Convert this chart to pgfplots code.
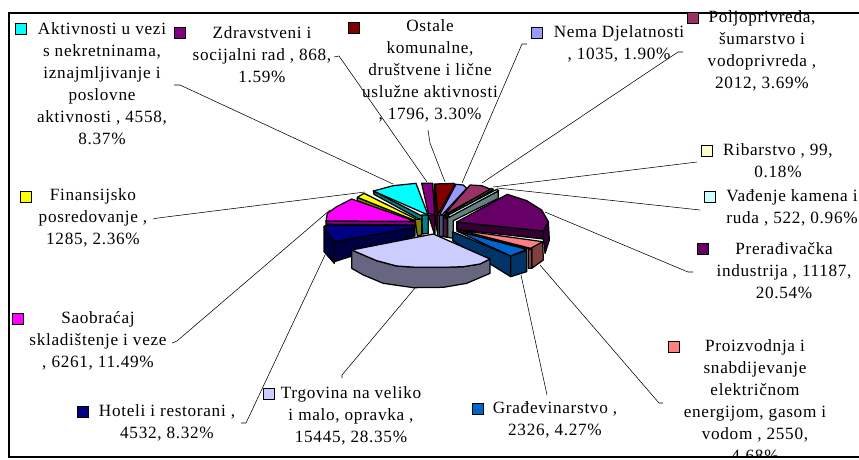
\documentclass[border=0pt]{standalone}
\usepackage{fontspec}
\setmainfont[LetterSpace=4]{Liberation Serif}
\usepackage{pgfplots}
\pgfplotsset{compat=1.18}
\newcommand{\poly}[2]{\addplot[draw=black,fill=#1,line width=1.25pt,line join=round] coordinates {#2} --cycle;}
\newcommand{\lead}[1]{\addplot[black,line width=0.55pt] coordinates {#1};}
\newcommand{\key}[3]{\addplot[only marks,mark=square*,mark size=5.2pt,mark options={draw=black,fill=#1,line width=1pt}] coordinates {(#2,#3)};}
\newcommand{\lab}[3]{\node[align=center,inner sep=0pt,font=\fontsize{17.2}{22}\selectfont] at (axis cs:#1,#2) {#3};}
\pgfplotsset{base/.style={at={(0,0)},anchor=south west,scale only axis,width=859pt,height=460pt,hide axis,y dir=reverse,clip=false}}
\definecolor{cTr}{HTML}{CCCCFF}\definecolor{sTr}{HTML}{666680}
\definecolor{cGr}{HTML}{0066CC}\definecolor{sGr}{HTML}{003366}
\definecolor{cPr}{HTML}{FF8080}\definecolor{sPr}{HTML}{804040}
\definecolor{cPe}{HTML}{660066}\definecolor{sPe}{HTML}{330033}
\definecolor{cVa}{HTML}{CCFFFF}\definecolor{sVa}{HTML}{668080}
\definecolor{cRi}{HTML}{FFFFCC}\definecolor{sRi}{HTML}{808066}
\definecolor{cPo}{HTML}{993366}\definecolor{sPo}{HTML}{4D1A33}
\definecolor{cNe}{HTML}{9999FF}\definecolor{sNe}{HTML}{4D4D80}
\definecolor{cOs}{HTML}{800000}\definecolor{sOs}{HTML}{400000}
\definecolor{cZd}{HTML}{800080}\definecolor{sZd}{HTML}{400040}
\definecolor{cAk}{HTML}{00FFFF}\definecolor{sAk}{HTML}{008080}
\definecolor{cFi}{HTML}{FFFF00}\definecolor{sFi}{HTML}{808000}
\definecolor{cSa}{HTML}{FF00FF}\definecolor{sSa}{HTML}{800080}
\definecolor{cHo}{HTML}{000080}\definecolor{sHo}{HTML}{000040}
\begin{document}
\begin{tikzpicture}[x=1pt,y=1pt]
\useasboundingbox (0,0) rectangle (859pt,460pt);
% labels, keys and leader lines, in pixels of the picture
\begin{axis}[base,xmin=0,xmax=859,ymin=0,ymax=460]
\lead{(174,85)(180,85)(393,184)}
\lead{(334,57)(339,56)(427,182)}
\lead{(428,130)(430,143)(445,182)}
\lead{(527,44)(522,44)(462,183)}
\lead{(683,52)(678,52)(482,183)}
\lead{(697,162)(493,187)}
\lead{(700,210)(497,188)}
\lead{(693,272)(688,272)(545,212)}
\lead{(663,403)(659,403)(540,265)}
\lead{(547,395)(521,275)}
\lead{(342,378)(342,375)(415,288)}
\lead{(241,423)(246,423)(325,255)}
\lead{(172,343)(177,341)(330,210)}
\lead{(153,219)(158,218)(365,192)}
\lab{102}{84}{Aktivnosti u vezi\\s nekretninama,\\iznajmljivanje i\\poslovne\\aktivnosti , 4558,\\8.37\%}
\lab{262}{55}{Zdravstveni i\\socijalni rad , 868,\\1.59\%}
\lab{430}{71}{Ostale\\komunalne,\\društvene i lične\\uslužne aktivnosti\\, 1796, 3.30\%}
\lab{619}{44}{Nema Djelatnosti\\, 1035, 1.90\%}
\lab{762}{51}{Poljoprivreda,\\šumarstvo i\\vodoprivreda ,\\2012, 3.69\%}
\lab{778}{161}{Ribarstvo , 99,\\0.18\%}
\lab{792}{208}{Vađenje kamena i\\ruda , 522, 0.96\%}
\lab{784}{271}{Prerađivačka\\industrija , 11187,\\20.54\%}
\lab{755}{401}{Proizvodnja i\\snabdijevanje\\električnom\\energijom, gasom i\\vodom , 2550,\\4.68\%}
\lab{555}{420}{Građevinarstvo ,\\2326, 4.27\%}
\lab{351}{416}{Trgovina na veliko\\i malo, opravka ,\\15445, 28.35\%}
\lab{167}{423}{Hoteli i restorani ,\\4532, 8.32\%}
\lab{98}{341}{Saobraćaj\\skladištenje i veze\\, 6261, 11.49\%}
\lab{93}{218}{Finansijsko\\posredovanje ,\\1285, 2.36\%}
\key{cAk}{21}{29}
\key{cZd}{180}{33}
\key{cOs}{354}{28}
\key{cNe}{537}{33}
\key{cPo}{693}{18}
\key{cRi}{707}{151}
\key{cVa}{710}{197}
\key{cPe}{703}{249}
\key{cPr}{674}{347}
\key{cGr}{478}{409}
\key{cTr}{269}{394}
\key{cHo}{83}{412}
\key{cSa}{18}{319}
\key{cFi}{26}{197}
% white strip that cuts the last label line, then the frame
\addplot[draw=none,fill=white] coordinates {(0,458)(859,458)(859,460)(0,460)} --cycle;
\addplot[black,line width=1.3pt] coordinates {(859,13)(9,13)(9,457)(859,457)};
\end{axis}
% the pie, in units of three to the pixel, from x=300, y=160
\begin{axis}[base,xmin=-900,xmax=1677,ymin=-480,ymax=900]
% back slices
\poly{sPo}{(430,165)(442,165)(442,232)(430,230)}
\poly{sPo}{(435,165)(572,88)(572,96)(435,176)}
\poly{cPo}{(432,165)(510,75)(545,77)(572,88)}
\poly{sNe}{(418,165)(430,165)(430,230)(418,228)}
\poly{cNe}{(420,162)(468,73)(490,75)(500,85)(426,165)}
\poly{sOs}{(403,72)(414,165)(414,226)(403,170)}
\poly{cOs}{(405,72)(460,70)(465,72)(414,165)}
\poly{sZd}{(385,165)(405,165)(405,228)}
\poly{cZd}{(365,70)(398,70)(404,165)(385,160)}
\poly{sRi}{(442,170)(578,90)(578,96)(442,176)}
\poly{cRi}{(440,165)(575,85)(580,88)(442,170)}
\poly{sVa}{(443,172)(595,93)(595,115)(460,182)(460,235)(443,232)}
\poly{cVa}{(445,165)(590,88)(596,92)(447,172)}
\poly{sAk}{(365,165)(385,165)(385,220)(368,222)}
\poly{sAk}{(220,93)(366,168)(366,182)(222,103)}
\poly{cAk}{(220,93)(280,77)(348,70)(384,165)}
\poly{sFi}{(345,178)(365,178)(365,225)(352,228)}
\poly{sFi}{(172,112)(346,182)(346,195)(172,122)}
\poly{cFi}{(172,112)(192,100)(346,176)(346,182)}
\poly{sSa}{(78,183)(346,185)(346,195)(78,193)}
\poly{cSa}{(155,117)(346,184)(78,183)(82,160)(110,140)}
% left slice
\poly{sHo}{(103,245)(345,200)(345,228)(103,305)}
\poly{sHo}{(72,200)(103,245)(103,310)(72,275)}
\poly{cHo}{(72,200)(78,195)(345,197)(345,202)(103,245)}
% right slices
\poly{sPe}{(745,185)(730,213)(730,237)(735,280)(748,240)}
\poly{sPe}{(470,186)(730,213)(730,237)(470,208)}
\poly{cPe}{(470,186)(622,103)(680,122)(725,150)(745,185)(730,213)}
\poly{sPr}{(695,262)(728,245)(730,300)(695,325)}
\poly{sPr}{(685,265)(695,262)(695,325)(685,325)}
\poly{sPr}{(472,208)(692,258)(692,268)(472,214)}
\poly{cPr}{(476,210)(728,245)(692,265)}
\poly{sGr}{(458,215)(632,288)(632,350)(458,242)}
\poly{sGr}{(632,288)(680,272)(680,335)(632,350)}
\poly{cGr}{(470,213)(680,268)(632,288)}
% front slice
\poly{sTr}{(155,270)(155,325)(190,345)(250,370)(340,383)(430,382)(500,370)(570,340)(570,297)(540,312)(490,320)(430,322)(350,322)(290,318)(230,302)}
\poly{cTr}{(400,222)(570,297)(540,312)(490,320)(430,322)(350,322)(290,318)(230,302)(155,270)}
\end{axis}
\end{tikzpicture}
\end{document}
